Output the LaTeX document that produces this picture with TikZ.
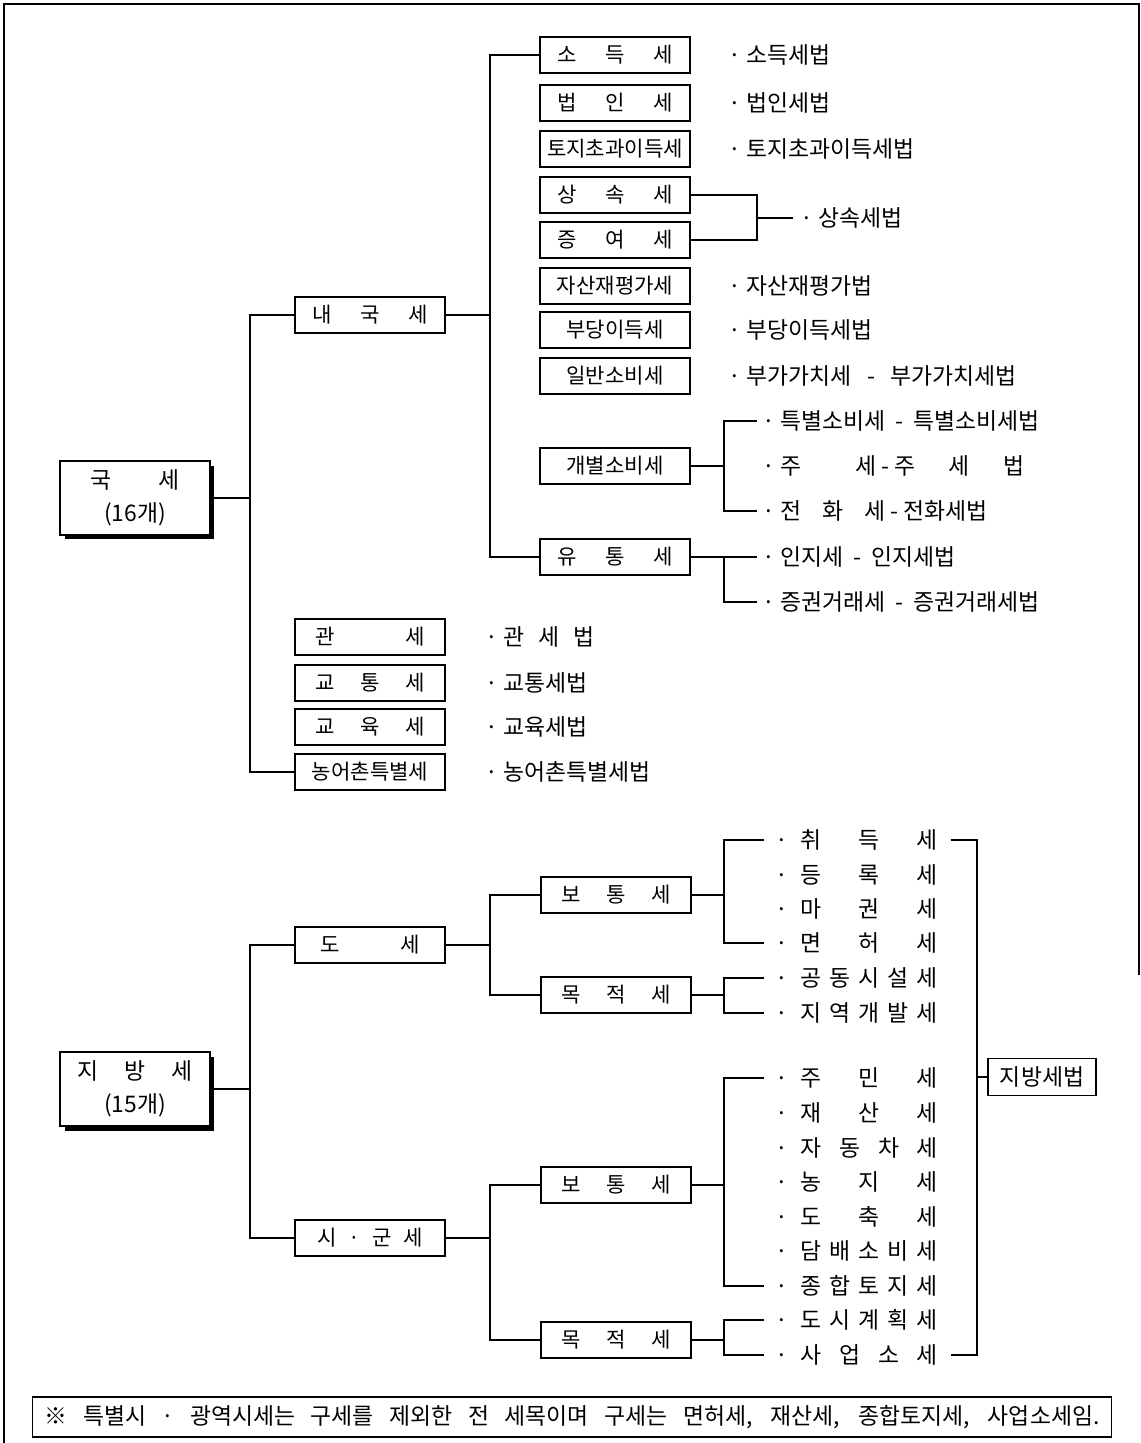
\documentclass[tikz,border=0pt]{standalone}
\usepackage{fontspec}
\setmainfont{Noto Sans CJK KR}
\usetikzlibrary{positioning,shadows}

\newcommand{\spr}[2]{\makebox[#1][s]{#2}}
\newcommand{\loctax}[1]{·\hspace{7pt}\makebox[2.75cm][s]{#1}}

\begin{document}
\begin{tikzpicture}[x=0.02cm, y=-0.02cm,
  frame/.style={line width=1pt},
  link/.style={line width=0.6pt},
  topbox/.style={draw, line width=0.8pt, fill=white, minimum width=3cm, minimum height=1.48cm, align=center, font=\fontsize{13}{19}\selectfont, drop shadow={shadow xshift=0.09cm, shadow yshift=-0.09cm, fill=black, opacity=1}},
  taxbox/.style={draw, line width=0.7pt, minimum width=3cm, minimum height=0.72cm, inner sep=1pt, font=\fontsize{12}{14}\selectfont},
  lawtext/.style={anchor=west, inner sep=0pt, font=\fontsize{13}{15}\selectfont},
  lawbox/.style={draw, line width=0.7pt, minimum width=2.16cm, minimum height=0.74cm, inner sep=1pt, font=\fontsize{13}{15}\selectfont},
]
\useasboundingbox (0,0) rectangle (1141,1443);
\draw[frame] (4,1443) -- (4,4) -- (1139,4) -- (1139,975);

% national taxes
\node[topbox] (guk) at (135,498) {\spr{1.8cm}{국\hfill 세}\\(16개)};
\node[taxbox] (naeguk) at (370,315) {\spr{2.3cm}{내\hfill 국\hfill 세}};
\node[taxbox] (gwan) at (370,637) {\spr{2.2cm}{관\hfill 세}};
\node[taxbox] (gyotong) at (370,683) {\spr{2.2cm}{교\hfill 통\hfill 세}};
\node[taxbox] (gyoyuk) at (370,727) {\spr{2.2cm}{교\hfill 육\hfill 세}};
\node[taxbox] (nong) at (370,772) {농어촌특별세};

\node[taxbox] (sodeuk) at (615,55) {\spr{2.3cm}{소\hfill 득\hfill 세}};
\node[taxbox] (beobin) at (615,103) {\spr{2.3cm}{법\hfill 인\hfill 세}};
\node[taxbox] (toji) at (615,149) {토지초과이득세};
\node[taxbox] (sangsok) at (615,195) {\spr{2.3cm}{상\hfill 속\hfill 세}};
\node[taxbox] (jeungyeo) at (615,240) {\spr{2.3cm}{증\hfill 여\hfill 세}};
\node[taxbox] (jasan) at (615,286) {자산재평가세};
\node[taxbox] (budang) at (615,330) {부당이득세};
\node[taxbox] (ilban) at (615,376) {일반소비세};
\node[taxbox] (gaebyeol) at (615,466) {개별소비세};
\node[taxbox] (yutong) at (615,557) {\spr{2.3cm}{유\hfill 통\hfill 세}};

\node[lawtext] (sodeukL) at (728,55) {· 소득세법};
\node[lawtext] (beobinL) at (728,103) {· 법인세법};
\node[lawtext] (tojiL) at (728,149) {· 토지초과이득세법};
\node[lawtext] (sangsokL) at (800,218) {· 상속세법};
\node[lawtext] (jasanL) at (728,286) {· 자산재평가법};
\node[lawtext] (budangL) at (728,330) {· 부당이득세법};
\node[lawtext] (ilbanL) at (728,376) {· 부가가치세\hspace{9pt}-\hspace{9pt}부가가치세법};
\node[lawtext] (teukL) at (762,421) {· 특별소비세 \ - \ 특별소비세법};
\node[lawtext] (juL) at (762,466) {· \spr{4.2em}{주\hfill 세} - \spr{5.7em}{주\hfill 세\hfill 법}};
\node[lawtext] (jeonL) at (762,511) {· \spr{4.6em}{전\hfill 화\hfill 세} - 전화세법};
\node[lawtext] (injiL) at (762,557) {· 인지세 \ - \ 인지세법};
\node[lawtext] (jeunggwonL) at (762,602) {· 증권거래세 \ - \ 증권거래세법};

\node[lawtext] (gwanL) at (485,637) {· \spr{4em}{관\hfill 세\hfill 법}};
\node[lawtext] (gyotongL) at (485,683) {· 교통세법};
\node[lawtext] (gyoyukL) at (485,727) {· 교육세법};
\node[lawtext] (nongL) at (485,772) {· 농어촌특별세법};

\coordinate (gv) at (250,498);
\coordinate (nv) at (490,315);
\coordinate (sv) at (757,218);
\coordinate (gbv) at (724,466);
\coordinate (ytv) at (724,557);
\draw[link] (guk.east) -- (gv);
\draw[link] (naeguk.west) -| (gv) |- (nong.west);
\draw[link] (naeguk.east) -- (nv);
\draw[link] (sodeuk.west) -| (nv) |- (yutong.west);
\draw[link] (sangsok.east) -| (sv) |- (jeungyeo.east);
\draw[link, shorten >=4pt] (sv) -- (sangsokL.west);
\draw[link] (gaebyeol.east) -- (gbv);
\draw[link, shorten <=3pt, shorten >=3pt] (teukL.west) -| (gbv) |- (jeonL.west);
\draw[link] (yutong.east) -| (ytv) |- ([xshift=-3pt]jeunggwonL.west);
\draw[link, shorten >=3pt] (ytv) -- (injiL.west);

% local taxes
\node[topbox] (jibang) at (135,1089) {\spr{2.3cm}{지\hfill 방\hfill 세}\\(15개)};
\node[taxbox] (do) at (370,945) {\spr{2.0cm}{도\hfill 세}};
\node[taxbox] (sigun) at (370,1238) {\spr{2.1cm}{시\hfill ·\hfill 군\hfill 세}};
\node[taxbox] (dobotong) at (616,895) {\spr{2.2cm}{보\hfill 통\hfill 세}};
\node[taxbox] (domokjeok) at (616,995) {\spr{2.2cm}{목\hfill 적\hfill 세}};
\node[taxbox] (sibotong) at (616,1185) {\spr{2.2cm}{보\hfill 통\hfill 세}};
\node[taxbox] (simokjeok) at (616,1340) {\spr{2.2cm}{목\hfill 적\hfill 세}};

\node[lawtext] (chwi) at (775,840) {\loctax{취\hfill 득\hfill 세}};
\node[lawtext] (deung) at (775,875) {\loctax{등\hfill 록\hfill 세}};
\node[lawtext] (magwon) at (775,909) {\loctax{마\hfill 권\hfill 세}};
\node[lawtext] (myeon) at (775,943) {\loctax{면\hfill 허\hfill 세}};
\node[lawtext] (gongdong) at (775,978) {\loctax{공\hfill 동\hfill 시\hfill 설\hfill 세}};
\node[lawtext] (jiyeok) at (775,1013) {\loctax{지\hfill 역\hfill 개\hfill 발\hfill 세}};
\node[lawtext] (jumin) at (775,1078) {\loctax{주\hfill 민\hfill 세}};
\node[lawtext] (jaesan) at (775,1113) {\loctax{재\hfill 산\hfill 세}};
\node[lawtext] (jadong) at (775,1148) {\loctax{자\hfill 동\hfill 차\hfill 세}};
\node[lawtext] (nongji) at (775,1182) {\loctax{농\hfill 지\hfill 세}};
\node[lawtext] (dochuk) at (775,1217) {\loctax{도\hfill 축\hfill 세}};
\node[lawtext] (dambae) at (775,1251) {\loctax{담\hfill 배\hfill 소\hfill 비\hfill 세}};
\node[lawtext] (jonghap) at (775,1286) {\loctax{종\hfill 합\hfill 토\hfill 지\hfill 세}};
\node[lawtext] (dosi) at (775,1320) {\loctax{도\hfill 시\hfill 계\hfill 획\hfill 세}};
\node[lawtext] (saeop) at (775,1355) {\loctax{사\hfill 업\hfill 소\hfill 세}};

\node[lawbox] (jibangbeop) at (1042,1077) {지방세법};

\coordinate (jv) at (250,1089);
\coordinate (dv) at (490,945);
\coordinate (sgv) at (490,1238);
\coordinate (b1) at (724,895);
\coordinate (m1) at (724,995);
\coordinate (b2) at (724,1185);
\coordinate (m2) at (724,1340);
\coordinate (rb) at (977,1077);
\draw[link] (jibang.east) -- (jv);
\draw[link] (do.west) -| (jv) |- (sigun.west);
\draw[link] (do.east) -- (dv);
\draw[link] (dobotong.west) -| (dv) |- (domokjeok.west);
\draw[link] (sigun.east) -- (sgv);
\draw[link] (sibotong.west) -| (sgv) |- (simokjeok.west);
\draw[link] (dobotong.east) -- (b1);
\draw[link, shorten <=6pt, shorten >=6pt] (chwi.west) -| (b1) |- (myeon.west);
\draw[link] (domokjeok.east) -- (m1);
\draw[link, shorten <=6pt, shorten >=6pt] (gongdong.west) -| (m1) |- (jiyeok.west);
\draw[link] (sibotong.east) -- (b2);
\draw[link, shorten <=6pt, shorten >=6pt] (jumin.west) -| (b2) |- (jonghap.west);
\draw[link] (simokjeok.east) -- (m2);
\draw[link, shorten <=6pt, shorten >=6pt] (dosi.west) -| (m2) |- (saeop.west);
\draw[link, shorten <=7pt, shorten >=7pt] (chwi.east) -| (rb) |- (saeop.east);
\draw[link] (rb) -- (jibangbeop.west);

% footnote
\node[draw, line width=0.8pt, minimum width=21.58cm, minimum height=0.8cm, inner sep=1pt, font=\fontsize{13}{15}\selectfont] (note) at (572,1417)
  {\makebox[21.1cm][s]{※ 특별시 · 광역시세는 구세를 제외한 전 세목이며 구세는 면허세, 재산세, 종합토지세, 사업소세임.}};
\end{tikzpicture}
\end{document}
